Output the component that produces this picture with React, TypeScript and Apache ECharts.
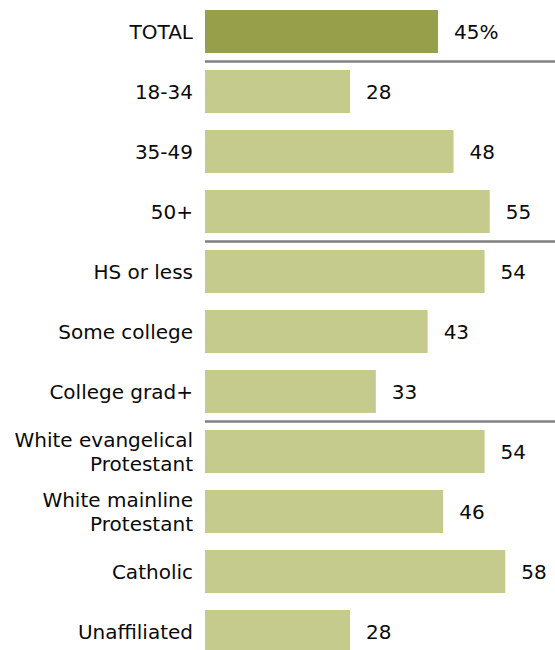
import React, { useEffect, useRef } from "react";
import * as echarts from "echarts";

const categories = [
  "TOTAL",
  "18-34",
  "35-49",
  "50+",
  "HS or less",
  "Some college",
  "College grad+",
  "White evangelical\nProtestant",
  "White mainline\nProtestant",
  "Catholic",
  "Unaffiliated",
];
const values = [45, 28, 48, 55, 54, 43, 33, 54, 46, 58, 28];
// indices of categories that start a new group (separator drawn above)
const groupStarts = [1, 4, 7];

export default function App() {
  const ref = useRef<HTMLDivElement>(null);
  useEffect(() => {
    if (!ref.current) return;
    const chart = echarts.init(ref.current, null, { renderer: "svg" });
    chart.setOption({
      animation: false,
      grid: {
        left: 205,
        right: 0,
        top: 1.5,
        height: 660,
        containLabel: false,
        outerBoundsMode: "none",
      },
      xAxis: {
        type: "value",
        min: 0,
        max: 67.6,
        show: false,
      },
      yAxis: {
        type: "category",
        data: categories,
        inverse: true,
        axisLine: { show: false },
        axisTick: { show: false },
        axisLabel: {
          margin: 12,
          fontSize: 20,
          fontFamily: "DejaVu Sans",
          color: "#0a0a0a",
          lineHeight: 24,
          align: "right",
        },
        splitLine: {
          show: true,
          interval: (index: number) => groupStarts.includes(index),
          lineStyle: { color: "#808080", width: 2.5 },
        },
      },
      series: [
        {
          type: "bar",
          data: values,
          barWidth: 43,
          itemStyle: {
            color: (p: any) => (p.dataIndex === 0 ? "#979f4b" : "#c5ca8d"),
          },
          label: {
            show: true,
            position: "right",
            distance: 16,
            fontSize: 20,
            fontFamily: "DejaVu Sans",
            color: "#0a0a0a",
            formatter: (p: any) => (p.dataIndex === 0 ? p.value + "%" : String(p.value)),
          },
        },
      ],
    });
    return () => chart.dispose();
  }, []);
  return (
    <div
      ref={ref}
      style={{ position: "fixed", left: 0, top: 0, width: 555, height: 650, background: "#fff" }}
    />
  );
}
